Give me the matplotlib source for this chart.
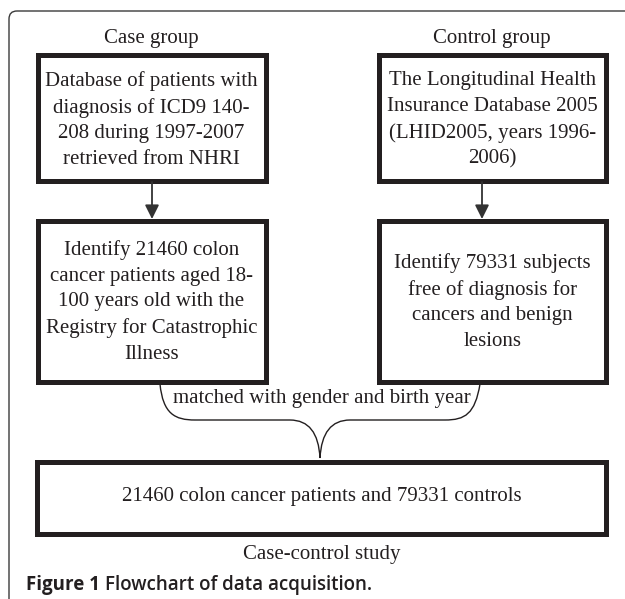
import matplotlib
matplotlib.use("Agg")
from matplotlib import pyplot as plt
from matplotlib.patches import Rectangle, PathPatch, FancyArrowPatch
from matplotlib.path import Path

# flowchart texts
group_titles = ["Case group", "Control group"]
top_boxes = [
    "Database of patients with\ndiagnosis of ICD9 140-\n208 during 1997-2007\nretrieved from NHRI",
    "The Longitudinal Health\nInsurance Database 2005\n(LHID2005, years 1996-\n2006)",
]
mid_boxes = [
    "Identify 21460 colon\ncancer patients aged 18-\n100 years old with the\nRegistry for Catastrophic\nIllness",
    "Identify 79331 subjects\nfree of diagnosis for\ncancers and benign\nlesions",
]
match_text = "matched with gender and birth year"
final_box = "21460 colon cancer patients and 79331 controls"
final_label = "Case-control study"
fig_caption_bold = "Figure 1"
fig_caption = "Flowchart of data acquisition."

SERIF = "Liberation Serif"
INK = "#231f20"
FS = 15
LS = 1.48

fig = plt.figure(figsize=(6.25, 5.99), dpi=100)
ax = fig.add_axes([0, 0, 1, 1])
ax.set_xlim(0, 625)
ax.set_ylim(599, 0)
ax.axis("off")

# outer frame with rounded top-left corner
frame = Path([(9, 640), (9, 19), (9, 11), (17, 11), (640, 11)],
             [Path.MOVETO, Path.LINETO, Path.CURVE3, Path.CURVE3, Path.LINETO])
ax.add_patch(PathPatch(frame, fill=False, ec="#3a3a3a", lw=1.0))

cols = [(37.5, 265.5), (378.5, 606)]
arrow_x = [152, 482]

def box(x0, x1, y0, y1):
    ax.add_patch(Rectangle((x0, y0), x1 - x0, y1 - y0, fill=False,
                           ec=INK, lw=3.6, joinstyle="miter"))

for i, (x0, x1) in enumerate(cols):
    cx = (x0 + x1) / 2
    ax.text(cx, 38, group_titles[i], ha="center", va="center",
            family=SERIF, fontsize=FS, color=INK)
    box(x0, x1, 54.5, 180.5)
    ax.text(cx, 120, top_boxes[i], ha="center", va="center", family=SERIF,
            fontsize=FS, color=INK, linespacing=LS)
    ax.add_patch(FancyArrowPatch((arrow_x[i], 182), (arrow_x[i], 219),
                                 arrowstyle="-|>,head_length=0.6,head_width=0.3",
                                 color="#333333", lw=1.3, mutation_scale=14,
                                 shrinkA=0, shrinkB=0))
    box(x0, x1, 221, 382)
    ax.text(cx, 302, mid_boxes[i], ha="center", va="center", family=SERIF,
            fontsize=FS, color=INK, linespacing=LS)

# brace joining both groups
brace = Path(
    [(160, 384), (163, 414), (175, 420), (195, 420),
     (290, 420), (318, 420), (320, 458),
     (322, 420), (350, 420), (445, 420),
     (465, 420), (475, 414), (480, 384)],
    [Path.MOVETO, Path.CURVE4, Path.CURVE4, Path.CURVE4,
     Path.LINETO, Path.CURVE3, Path.CURVE3,
     Path.CURVE3, Path.CURVE3, Path.LINETO,
     Path.CURVE4, Path.CURVE4, Path.CURVE4])
ax.add_patch(PathPatch(brace, fill=False, ec=INK, lw=1.0))
ax.text(322, 398, match_text, ha="center", va="center", family=SERIF,
        fontsize=FS, color=INK)

box(37, 606, 462, 534)
ax.text(322, 497, final_box, ha="center", va="center", family=SERIF,
        fontsize=FS, color=INK)
ax.text(322, 554, final_label, ha="center", va="center", family=SERIF,
        fontsize=FS, color=INK)

t = ax.text(26, 585, fig_caption_bold + " ", ha="left", va="center",
            family="Open Sans", fontweight="bold", fontsize=13.5, color=INK)
fig.canvas.draw()
bb = t.get_window_extent()
x_end = ax.transData.inverted().transform((bb.x1, bb.y0))[0]
ax.text(x_end, 585, fig_caption, ha="left", va="center",
        family="Open Sans", fontweight="semibold", fontsize=13.5, color=INK)

fig.savefig("out.png", dpi=100)
